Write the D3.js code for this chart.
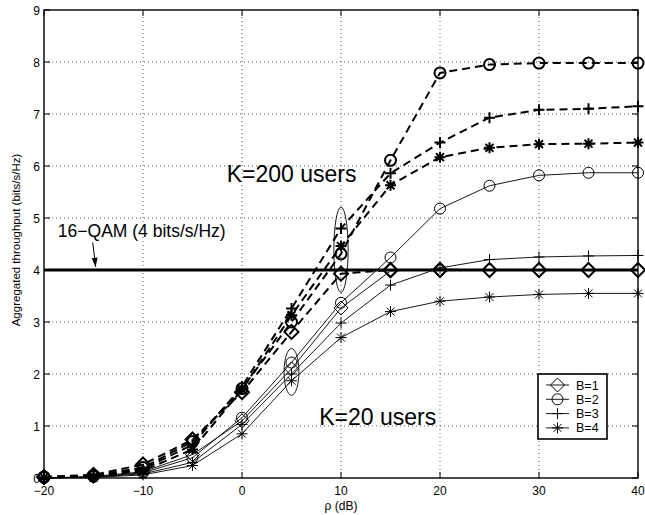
<!DOCTYPE html>
<html>
<head>
<meta charset="utf-8">
<script src="https://cdn.jsdelivr.net/npm/d3@7"></script>
<style>
  body { margin: 0; background: #fff; }
  svg { display: block; font-family: "Liberation Sans", Arial, Helvetica, sans-serif; }
</style>
</head>
<body>
<div id="chart"></div>
<script>
// values
var rho = [-20, -15, -10, -5, 0, 5, 10, 15, 20, 25, 30, 35, 40];

var k200_b1 = [0.02, 0.06, 0.26, 0.74, 1.65, 2.81, 3.93, 4.00, 4.00, 4.00, 4.00, 4.00, 4.00];
var k200_b2 = [0.02, 0.05, 0.20, 0.70, 1.72, 3.00, 4.31, 6.11, 7.79, 7.95, 7.98, 7.98, 7.98];
var k200_b3 = [0.01, 0.04, 0.17, 0.64, 1.76, 3.26, 4.80, 5.86, 6.45, 6.93, 7.08, 7.10, 7.15];
var k200_b4 = [0.01, 0.03, 0.14, 0.55, 1.70, 3.13, 4.46, 5.63, 6.17, 6.35, 6.42, 6.43, 6.45];

var k20_b1 = [0.00, 0.03, 0.12, 0.45, 1.10, 2.10, 3.27, 3.98, 4.02, 4.00, 4.00, 4.00, 4.00];
var k20_b2 = [0.00, 0.02, 0.10, 0.39, 1.16, 2.22, 3.37, 4.24, 5.18, 5.62, 5.82, 5.87, 5.87];
var k20_b3 = [0.00, 0.02, 0.08, 0.30, 1.03, 2.00, 2.98, 3.71, 4.04, 4.20, 4.25, 4.27, 4.28];
var k20_b4 = [0.00, 0.01, 0.06, 0.24, 0.85, 1.87, 2.70, 3.20, 3.40, 3.48, 3.53, 3.55, 3.55];

var markers = ["diamond", "circle", "plus", "star"];
var legend_labels = ["B=1", "B=2", "B=3", "B=4"];

var x_ticks = [-20, -10, 0, 10, 20, 30, 40];
var y_ticks = [0, 1, 2, 3, 4, 5, 6, 7, 8, 9];

var qam_level = 4;

// ellipses around the point groups: [rho, centre, half width, half height]
var ellipses = [[10, 4.39, 0.72, 0.82], [5, 2.04, 0.75, 0.45]];

var canvas_width = 645;
var canvas_height = 515;
var margin = {left: 44, right: 7, top: 10, bottom: 37};

var svg = d3.select("#chart")
    .append("svg")
    .attr("width", canvas_width)
    .attr("height", canvas_height);

var x = d3.scaleLinear().domain([-20, 40]).range([margin.left, canvas_width - margin.right]);
var y = d3.scaleLinear().domain([0, 9]).range([canvas_height - margin.bottom, margin.top]);

var x0 = x.range()[0], x1 = x.range()[1];
var y0 = y.range()[0], y1 = y.range()[1];

// dotted grid
var grid = svg.append("g")
    .attr("stroke", "#333")
    .attr("stroke-width", 0.8)
    .attr("stroke-dasharray", "1,3");

grid.selectAll(".gx")
    .data(x_ticks.slice(1, -1))
    .enter().append("line")
    .attr("x1", function(d) { return x(d); })
    .attr("x2", function(d) { return x(d); })
    .attr("y1", y0)
    .attr("y2", y1);

grid.selectAll(".gy")
    .data(y_ticks.slice(1, -1))
    .enter().append("line")
    .attr("x1", x0)
    .attr("x2", x1)
    .attr("y1", function(d) { return y(d); })
    .attr("y2", function(d) { return y(d); });

// 16-QAM limit
svg.append("line")
    .attr("x1", x0)
    .attr("x2", x1)
    .attr("y1", y(qam_level))
    .attr("y2", y(qam_level))
    .attr("stroke", "black")
    .attr("stroke-width", 3);

function markerPath(type, s) {
  if (type == "diamond") {
    return "M0," + (-s) + "L" + s + ",0L0," + s + "L" + (-s) + ",0Z";
  }
  if (type == "plus") {
    return "M" + (-s) + ",0H" + s + "M0," + (-s) + "V" + s;
  }
  if (type == "star") {
    var t = s * 0.72;
    return "M" + (-s) + ",0H" + s + "M0," + (-s) + "V" + s +
      "M" + (-t) + "," + (-t) + "L" + t + "," + t +
      "M" + (-t) + "," + t + "L" + t + "," + (-t);
  }
  return "";
}

function drawMarker(g, type, cx, cy, sw) {
  if (type == "circle") {
    g.append("circle")
      .attr("cx", cx)
      .attr("cy", cy)
      .attr("r", 5.5)
      .attr("fill", "none")
      .attr("stroke", "black")
      .attr("stroke-width", sw);
  }
  else {
    var size = 5.5;
    if (type == "diamond") size = 7;
    g.append("path")
      .attr("transform", "translate(" + cx + "," + cy + ")")
      .attr("d", markerPath(type, size))
      .attr("fill", "none")
      .attr("stroke", "black")
      .attr("stroke-width", sw);
  }
}

var line = d3.line()
    .x(function(d, i) { return x(rho[i]); })
    .y(function(d) { return y(d); });

function drawSeries(values, type, dashed) {
  var g = svg.append("g");
  g.append("path")
    .datum(values)
    .attr("d", line)
    .attr("fill", "none")
    .attr("stroke", "black")
    .attr("stroke-width", dashed ? 2 : 0.9)
    .attr("stroke-dasharray", dashed ? "8,5" : null);
  values.forEach(function(v, i) {
    drawMarker(g, type, x(rho[i]), y(v), dashed ? 2 : 1);
  });
}

var k20 = [k20_b1, k20_b2, k20_b3, k20_b4];
var k200 = [k200_b1, k200_b2, k200_b3, k200_b4];

k20.forEach(function(s, i) { drawSeries(s, markers[i], false); });
k200.forEach(function(s, i) { drawSeries(s, markers[i], true); });

// ellipses
svg.selectAll(".ell")
    .data(ellipses)
    .enter().append("ellipse")
    .attr("cx", function(d) { return x(d[0]); })
    .attr("cy", function(d) { return y(d[1]); })
    .attr("rx", function(d) { return x(d[2]) - x(0); })
    .attr("ry", function(d) { return y(0) - y(d[3]); })
    .attr("fill", "none")
    .attr("stroke", "black")
    .attr("stroke-width", 0.9);

// axes box and inward ticks
svg.append("rect")
    .attr("x", x0)
    .attr("y", y1)
    .attr("width", x1 - x0)
    .attr("height", y0 - y1)
    .attr("fill", "none")
    .attr("stroke", "black")
    .attr("stroke-width", 1.4);

var ticks = svg.append("g").attr("stroke", "black").attr("stroke-width", 1);
x_ticks.forEach(function(t) {
  ticks.append("line").attr("x1", x(t)).attr("x2", x(t)).attr("y1", y0).attr("y2", y0 - 6);
  ticks.append("line").attr("x1", x(t)).attr("x2", x(t)).attr("y1", y1).attr("y2", y1 + 6);
});
y_ticks.forEach(function(t) {
  ticks.append("line").attr("x1", x0).attr("x2", x0 + 6).attr("y1", y(t)).attr("y2", y(t));
  ticks.append("line").attr("x1", x1).attr("x2", x1 - 6).attr("y1", y(t)).attr("y2", y(t));
});

svg.selectAll(".xl")
    .data(x_ticks)
    .enter().append("text")
    .attr("x", function(d) { return x(d); })
    .attr("y", y0 + 17)
    .attr("text-anchor", "middle")
    .style("font-size", "12px")
    .text(function(d) { return d < 0 ? "\u2212" + Math.abs(d) : d; });

svg.selectAll(".yl")
    .data(y_ticks)
    .enter().append("text")
    .attr("x", x0 - 4)
    .attr("y", function(d) { return y(d) + 4.5; })
    .attr("text-anchor", "end")
    .style("font-size", "12px")
    .text(function(d) { return d; });

svg.append("text")
    .attr("x", (x0 + x1) / 2)
    .attr("y", canvas_height - 5)
    .attr("text-anchor", "middle")
    .style("font-size", "12px")
    .text("\u03C1 (dB)");

svg.append("text")
    .attr("transform", "translate(20," + ((y0 + y1) / 2 - 4) + ") rotate(-90)")
    .attr("text-anchor", "middle")
    .style("font-size", "11.5px")
    .text("Aggregated throughput (bits/s/Hz)");

// annotations
svg.append("text")
    .attr("x", x(-1.55))
    .attr("y", y(5.70))
    .style("font-size", "23px")
    .text("K=200 users");

svg.append("text")
    .attr("x", x(7.8))
    .attr("y", y(1.02))
    .style("font-size", "23px")
    .text("K=20 users");

svg.append("text")
    .attr("x", x(-18.6))
    .attr("y", y(4.64))
    .style("font-size", "17.5px")
    .text("16\u2212QAM (4 bits/s/Hz)");

// arrow to the 16-QAM line
var ax1 = x(-15.08), ay1 = y(4.53), ax2 = x(-14.78), ay2 = y(4.06);
svg.append("line")
    .attr("x1", ax1).attr("y1", ay1)
    .attr("x2", ax2).attr("y2", ay2)
    .attr("stroke", "black")
    .attr("stroke-width", 1);
var ang = Math.atan2(ay2 - ay1, ax2 - ax1);
var hl = 9, hw = 3;
var bx = ax2 - hl * Math.cos(ang), by = ay2 - hl * Math.sin(ang);
svg.append("path")
    .attr("d", "M" + ax2 + "," + ay2 +
      "L" + (bx + hw * Math.sin(ang)) + "," + (by - hw * Math.cos(ang)) +
      "L" + (bx - hw * Math.sin(ang)) + "," + (by + hw * Math.cos(ang)) + "Z")
    .attr("fill", "black");

// legend
var lg = svg.append("g");
lg.append("rect")
    .attr("x", 538)
    .attr("y", 374)
    .attr("width", 69)
    .attr("height", 65)
    .attr("fill", "white")
    .attr("stroke", "black")
    .attr("stroke-width", 1.6);

legend_labels.forEach(function(label, i) {
  var ly = 385 + i * 14.3;
  lg.append("line")
    .attr("x1", 546).attr("x2", 569)
    .attr("y1", ly).attr("y2", ly)
    .attr("stroke", "black")
    .attr("stroke-width", 0.9);
  drawMarker(lg, markers[i], 557.5, ly, 1);
  lg.append("text")
    .attr("x", 576)
    .attr("y", ly + 4.5)
    .style("font-size", "12.5px")
    .text(label);
});
</script>
</body>
</html>
